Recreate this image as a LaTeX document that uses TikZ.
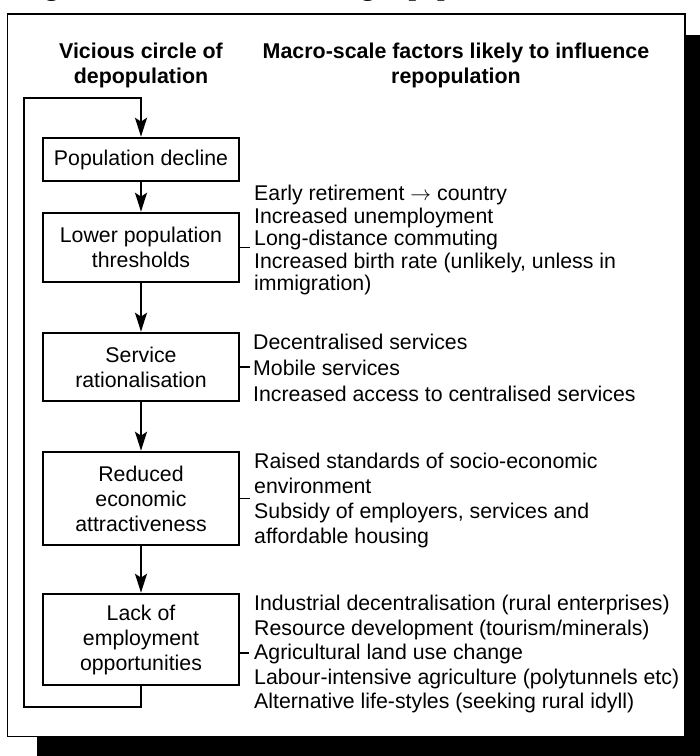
\documentclass[tikz,border=0pt]{standalone}
\usepackage{fontspec}
\setmainfont{Liberation Sans}
\newfontfamily\titlefont{Liberation Serif}
\usetikzlibrary{arrows.meta}
\begin{document}
\begin{tikzpicture}[x=1pt,y=-1pt,
  boxnode/.style={draw, line width=2.6pt, minimum width=196pt, inner sep=0pt, align=center, font=\fontsize{21.3}{25}\selectfont},
  conn/.style={line width=2.2pt, -{Stealth[length=19pt,width=12pt,inset=4pt]}},
  tickline/.style={line width=1.8pt},
  factors/.style={anchor=west, align=left, inner sep=0pt},
  heading/.style={align=center, font=\bfseries\fontsize{21.4}{25}\selectfont, inner sep=0pt}]
\useasboundingbox (0,0) rectangle (700,756);
\clip (0,0) rectangle (700,756);
% shadow and frame
\fill[black] (37,35) rectangle (700,756);
\draw[line width=1.3pt, fill=white] (7.5,14) rectangle (685,736.5);
% clipped title
\node[anchor=base west, inner sep=0pt, font=\titlefont\bfseries\fontsize{27}{27}\selectfont] (title) at (21,-4.5) {Figure 10.1 Model of reversing depopulation};
% headings
\node[heading] (h1) at (141,65.5) {Vicious circle of\\depopulation};
\node[heading] (h2) at (456,65.5) {Macro-scale factors likely to influence\\repopulation};
% boxes
\node[boxnode, minimum height=43pt] (b1) at (141,159.5) {Population decline};
\node[boxnode, minimum height=69pt] (b2) at (141,247.5) {Lower population\\thresholds};
\node[boxnode, minimum height=68pt] (b3) at (141,367) {Service\\rationalisation};
\node[boxnode, minimum height=93pt] (b4) at (141,498.5) {Reduced\\economic\\attractiveness};
\node[boxnode, minimum height=91pt] (b5) at (141,639.5) {Lack of\\employment\\opportunities};
% arrows
\draw[conn] (b1) -- (b2);
\draw[conn] (b2) -- (b3);
\draw[conn] (b3) -- (b4);
\draw[conn] (b4) -- (b5);
% feedback loop
\coordinate (lbot) at (24,707);
\coordinate (ltop) at (24,98);
\draw[conn] (b5.south) |- (lbot) |- (ltop) -| (b1.north);
% factor texts
\node[factors, font=\fontsize{21.3}{22.5}\selectfont] (f1) at (254,240) {Early retirement $\rightarrow$ country\\Increased unemployment\\Long-distance commuting\\Increased birth rate (unlikely, unless in\\immigration)};
\node[factors, font=\fontsize{21.3}{26}\selectfont] (f2) at (253,368) {Decentralised services\\Mobile services\\Increased access to centralised services};
\node[factors, font=\fontsize{21.3}{25}\selectfont] (f3) at (254,500) {Raised standards of socio-economic\\environment\\Subsidy of employers, services and\\affordable housing};
\node[factors, font=\fontsize{21.3}{24.5}\selectfont] (f4) at (254,654) {Industrial decentralisation (rural enterprises)\\Resource development (tourism/minerals)\\Agricultural land use change\\Labour-intensive agriculture (polytunnels etc)\\Alternative life-styles (seeking rural idyll)};
% ticks
\coordinate (t5) at (249,653);
\draw[tickline] (b2.east) -- ++(10,0);
\draw[tickline] (b3.east) -- ++(10,0);
\draw[tickline] (b4.east) -- ++(10,0);
\draw[tickline] (b5.east |- t5) -- (t5);
\end{tikzpicture}
\end{document}
